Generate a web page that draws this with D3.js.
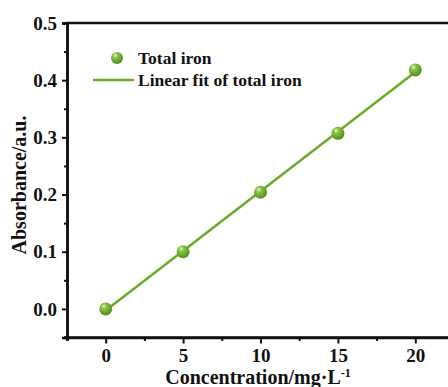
<!DOCTYPE html>
<meta charset="utf-8">
<style>
body { margin: 0; background: #fff; }
text { font-family: "Liberation Serif", "Times New Roman", serif; font-weight: bold; fill: #111; }
</style>
<body>
<script src="https://d3js.org/d3.v7.min.js"></script>
<script>

// data
var concentration = [0, 5, 10, 15, 20];
var absorbance = [0.000, 0.100, 0.204, 0.307, 0.418];
var xTicks = [0, 5, 10, 15, 20];
var yTicks = [0.0, 0.1, 0.2, 0.3, 0.4, 0.5];
var xMinor = [-2.5, 2.5, 7.5, 12.5, 17.5, 22.5];
var yMinor = [-0.05, 0.05, 0.15, 0.25, 0.35, 0.45];
var legendLabels = ["Total iron", "Linear fit of total iron"];

var green = "#6aab2b";

var svg = d3.select("body").append("svg")
    .attr("width", 448)
    .attr("height", 387);

var x = d3.scaleLinear().domain([-2.5, 22.5]).range([67, 454]);
var y = d3.scaleLinear().domain([-0.05, 0.5]).range([337.5, 23]);

// sphere gradient for markers
var grad = svg.append("defs").append("radialGradient")
    .attr("id", "ball")
    .attr("cx", "40%").attr("cy", "35%").attr("r", "65%")
    .attr("fx", "35%").attr("fy", "28%");
grad.append("stop").attr("offset", "0%").attr("stop-color", "#eaf7d6");
grad.append("stop").attr("offset", "30%").attr("stop-color", "#8cc44a");
grad.append("stop").attr("offset", "100%").attr("stop-color", "#4f8f1a");

// linear fit (least squares)
var mx = d3.mean(concentration), my = d3.mean(absorbance);
var slope = d3.sum(concentration, function(d, i) { return (d - mx) * (absorbance[i] - my); }) /
            d3.sum(concentration, function(d) { return (d - mx) * (d - mx); });
var icpt = my - slope * mx;

svg.append("line")
    .attr("x1", x(0)).attr("y1", y(icpt))
    .attr("x2", x(20)).attr("y2", y(icpt + slope * 20))
    .attr("stroke", green).attr("stroke-width", 2.5);

svg.selectAll(".pt")
    .data(concentration)
  .enter().append("circle")
    .attr("class", "pt")
    .attr("cx", function(d) { return x(d); })
    .attr("cy", function(d, i) { return y(absorbance[i]); })
    .attr("r", 6.5)
    .attr("fill", "url(#ball)");

// axes
var xAxis = svg.append("g")
    .attr("transform", "translate(0,337.5)")
    .call(d3.axisBottom(x).tickValues(xTicks).tickSize(6).tickPadding(5).tickFormat(d3.format("d")));
var xMin = svg.append("g")
    .attr("transform", "translate(0,337.5)")
    .call(d3.axisBottom(x).tickValues(xMinor).tickSize(3.5).tickFormat(""));
var yAxis = svg.append("g")
    .attr("transform", "translate(67,0)")
    .call(d3.axisLeft(y).tickValues(yTicks).tickSize(5).tickPadding(5).tickFormat(d3.format(".1f")));
var yMin = svg.append("g")
    .attr("transform", "translate(67,0)")
    .call(d3.axisLeft(y).tickValues(yMinor).tickSize(3).tickFormat(""));

[xAxis, xMin, yAxis, yMin].forEach(function(g) {
  g.selectAll("path").attr("stroke", "#111").attr("stroke-width", 2.5);
  g.selectAll("line").attr("stroke", "#111").attr("stroke-width", 2);
  g.selectAll("text").attr("font-size", 19).attr("fill", "#111");
});
xAxis.select("path").attr("d", "M64,0H454");

// top border
svg.append("line")
    .attr("x1", 66).attr("x2", 454).attr("y1", 23).attr("y2", 23)
    .attr("stroke", "#111").attr("stroke-width", 2.5);

// axis titles
var xt = svg.append("text")
    .attr("x", 258).attr("y", 384)
    .attr("text-anchor", "middle")
    .attr("font-size", 20)
    .text("Concentration/mg\u00b7L");
xt.append("tspan").attr("dy", -7).attr("font-size", 12).text("-1");

svg.append("text")
    .attr("transform", "translate(26,185) rotate(-90)")
    .attr("text-anchor", "middle")
    .attr("font-size", 20)
    .text("Absorbance/a.u.");

// legend
svg.append("circle").attr("cx", 117).attr("cy", 58).attr("r", 6).attr("fill", "url(#ball)");
svg.append("line").attr("x1", 93).attr("x2", 134).attr("y1", 80).attr("y2", 80)
    .attr("stroke", green).attr("stroke-width", 2.5);
svg.selectAll(".leg")
    .data(legendLabels)
  .enter().append("text")
    .attr("class", "leg")
    .attr("x", 138)
    .attr("y", function(d, i) { return 64 + i * 22; })
    .attr("font-size", 17.5)
    .text(function(d) { return d; });

</script>
</body>
